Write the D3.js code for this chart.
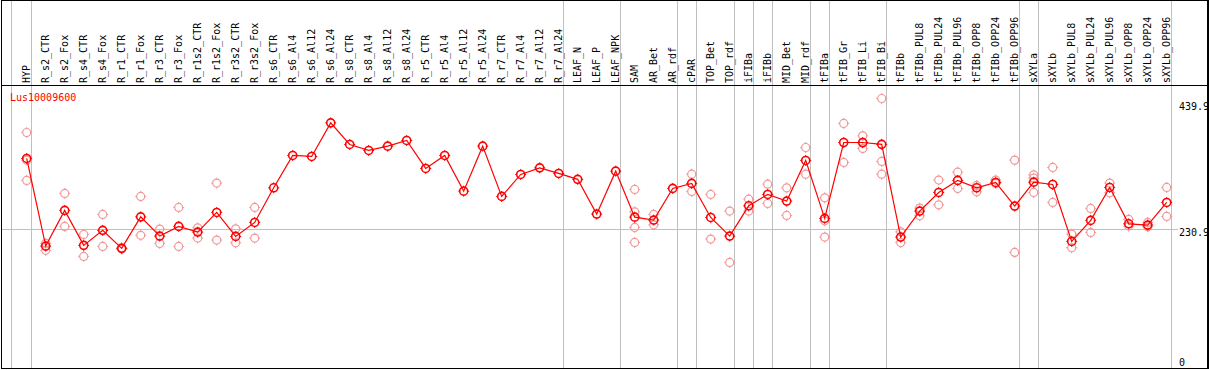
<!DOCTYPE html>
<html lang="en">
<head>
<meta charset="utf-8" />
<title>Lus10009600</title>
<script src="https://d3js.org/d3.v7.min.js"></script>
<style>
  body { margin: 0; background: white; }
  text { font-family: "DejaVu Sans Mono", monospace; font-size: 10px; }
</style>
</head>
<body>
<div id="chart"></div>
<script>

// gene shown
var gene = "Lus10009600";

// sample names, left to right
var samples = ["HYP", "R_s2_CTR", "R_s2_Fox", "R_s4_CTR", "R_s4_Fox", "R_r1_CTR", "R_r1_Fox",
  "R_r3_CTR", "R_r3_Fox", "R_r1s2_CTR", "R_r1s2_Fox", "R_r3s2_CTR", "R_r3s2_Fox",
  "R_s6_CTR", "R_s6_Al4", "R_s6_Al12", "R_s6_Al24", "R_s8_CTR", "R_s8_Al4", "R_s8_Al12", "R_s8_Al24",
  "R_r5_CTR", "R_r5_Al4", "R_r5_Al12", "R_r5_Al24", "R_r7_CTR", "R_r7_Al4", "R_r7_Al12", "R_r7_Al24",
  "LEAF_N", "LEAF_P", "LEAF_NPK", "SAM", "AR_Bet", "AR_rdf", "cPAR", "TOP_Bet", "TOP_rdf",
  "iFIBa", "iFIBb", "MID_Bet", "MID_rdf", "tFIBa", "tFIB_Gr", "tFIB_Li", "tFIB_Bi",
  "tFIBb", "tFIBb_PUL8", "tFIBb_PUL24", "tFIBb_PUL96", "tFIBb_OPP8", "tFIBb_OPP24", "tFIBb_OPP96",
  "sXYLa", "sXYLb", "sXYLb_PUL8", "sXYLb_PUL24", "sXYLb_PUL96", "sXYLb_OPP8", "sXYLb_OPP24", "sXYLb_OPP96"];

// mean expression per sample
var means = [347.3, 201.7, 261.0, 202.9, 227.8, 197.9, 250.3,
  218.3, 234.4, 224.9, 257.6, 217.8, 241.0,
  298.5, 352.3, 350.6, 406.4, 370.5, 360.6, 367.7, 377.2,
  330.7, 352.3, 293.0, 367.7, 284.2, 320.7, 331.7, 322.4,
  312.6, 254.8, 326.2, 249.8, 244.9, 297.5, 305.8, 249.3, 218.3,
  268.6, 287.5, 276.4, 344.0, 247.7, 373.8, 373.8, 370.7,
  216.6, 259.8, 290.8, 310.8, 298.5, 307.4, 268.1,
  307.9, 304.1, 209.5, 244.4, 299.1, 238.7, 236.6, 274.2];

// replicate values per sample (empty where none shown)
var replicates = [[390.4, 344.5, 310.8], [206.2, 194.6], [289.2, 234.4], [221.1, 184.6], [254.3, 201.2],
  [198.9, 196.7], [284.2, 219.5], [229.9, 206.2], [265.9, 201.2], [232.1, 215.0], [306.3, 211.7],
  [230.4, 207.2], [265.9, 215.0],
  [], [], [], [], [], [], [], [], [], [], [], [], [], [], [], [],
  [], [], [],
  [295.8, 258.6, 232.7, 207.8], [254.3, 237.1], [], [321.2, 292.5], [287.5, 213.3], [259.8, 174.6],
  [279.7, 259.8], [304.6, 272.6], [298.5, 252.7], [365.5, 321.2], [281.9, 243.7, 216.6],
  [405.4, 340.6], [384.8, 372.7, 363.9], [446.9, 342.3, 321.2],
  [225.4, 207.5], [264.8, 252.0], [311.3, 270.3], [324.5, 297.5], [302.5, 291.8], [311.3, 305.8], [344.5, 191.2],
  [320.1, 314.6, 290.8], [332.3, 274.2], [221.6, 198.9], [264.3, 224.4], [306.3, 290.2], [246.0, 234.9],
  [241.0, 233.7], [299.1, 251.0]];

// last sample of each group (a grey separator follows it)
var groupEnds = ["HYP", "R_r7_Al24", "LEAF_NPK", "AR_rdf", "cPAR", "TOP_rdf", "iFIBa", "iFIBb",
  "MID_rdf", "tFIBa", "tFIB_Bi", "tFIBb_OPP96", "sXYLa", "sXYLb_OPP96"];

// right-hand value labels and the reference line
var yTicks = [0, 230.9, 439.9];
var refLine = 230.9;

var W = 1209, H = 370;
var headerY = 85.5, bottomY = 368.5;

var svg = d3.select("#chart").append("svg")
  .attr("width", W).attr("height", H);

var x = d3.scalePoint()
  .domain(samples)
  .range([26.7, 1166.7]);

var y = d3.scaleLinear()
  .domain([0, 439.9])
  .range([367.5, 102.7]);

// grey separators, full height
var seps = [x(samples[0]) - 16].concat(groupEnds.map(function(s) { return x(s) + 4; }));
svg.append("g").selectAll("line").data(seps).enter().append("line")
  .attr("x1", function(d) { return Math.round(d) + 0.5; })
  .attr("x2", function(d) { return Math.round(d) + 0.5; })
  .attr("y1", 1).attr("y2", bottomY)
  .attr("stroke", "#c0c0c0").attr("stroke-width", 1)
  .attr("shape-rendering", "crispEdges");

// reference line
svg.append("line")
  .attr("x1", 2).attr("x2", 1178)
  .attr("y1", Math.round(y(refLine)) + 0.5).attr("y2", Math.round(y(refLine)) + 0.5)
  .attr("stroke", "#c0c0c0").attr("stroke-width", 1)
  .attr("shape-rendering", "crispEdges");

// frame and header rule
svg.append("rect")
  .attr("x", 1.5).attr("y", 0.5).attr("width", W - 2.5).attr("height", bottomY - 0.5)
  .attr("fill", "none").attr("stroke", "black").attr("stroke-width", 1.2)
  .attr("shape-rendering", "crispEdges");
svg.append("line")
  .attr("x1", 1).attr("x2", W).attr("y1", headerY).attr("y2", headerY)
  .attr("stroke", "black").attr("stroke-width", 1.2)
  .attr("shape-rendering", "crispEdges");

// sample labels, rotated
svg.append("g").selectAll("text").data(samples).enter().append("text")
  .attr("transform", function(d) { return "translate(" + (x(d) + 3) + "," + 83 + ") rotate(-90)"; })
  .attr("fill", "black")
  .text(function(d) { return d; });

// gene label
svg.append("text")
  .attr("x", 10).attr("y", 100.5)
  .attr("fill", "red")
  .text(gene);

// value labels on the right
svg.append("g").selectAll("text").data(yTicks).enter().append("text")
  .attr("x", 1179)
  .attr("y", function(d) { return Math.min(y(d) + 7.5, 366); })
  .attr("fill", "black")
  .text(function(d) { return d; });

// draws an open circle with small ticks, like the original markers
function marker(g, cx, cy, color, sw) {
  g.append("circle")
    .attr("cx", cx).attr("cy", cy).attr("r", 4)
    .attr("fill", "none").attr("stroke", color).attr("stroke-width", sw);
  [[0, -1], [0, 1], [-1, 0], [1, 0]].forEach(function(o) {
    g.append("line")
      .attr("x1", cx + o[0] * 4).attr("y1", cy + o[1] * 4)
      .attr("x2", cx + o[0] * 5.5).attr("y2", cy + o[1] * 5.5)
      .attr("stroke", color).attr("stroke-width", 1);
  });
}

// replicate points
var gRep = svg.append("g");
samples.forEach(function(s, i) {
  replicates[i].forEach(function(v) {
    marker(gRep, x(s), y(v), "#f09898", 1.2);
  });
});

// mean line
svg.append("path")
  .datum(means)
  .attr("fill", "none")
  .attr("stroke", "red")
  .attr("stroke-width", 1.2)
  .attr("d", d3.line()
    .x(function(d, i) { return x(samples[i]); })
    .y(function(d) { return y(d); }));

// mean points
var gMean = svg.append("g");
means.forEach(function(v, i) {
  marker(gMean, x(samples[i]), y(v), "red", 1.6);
});

</script>
</body>
</html>
